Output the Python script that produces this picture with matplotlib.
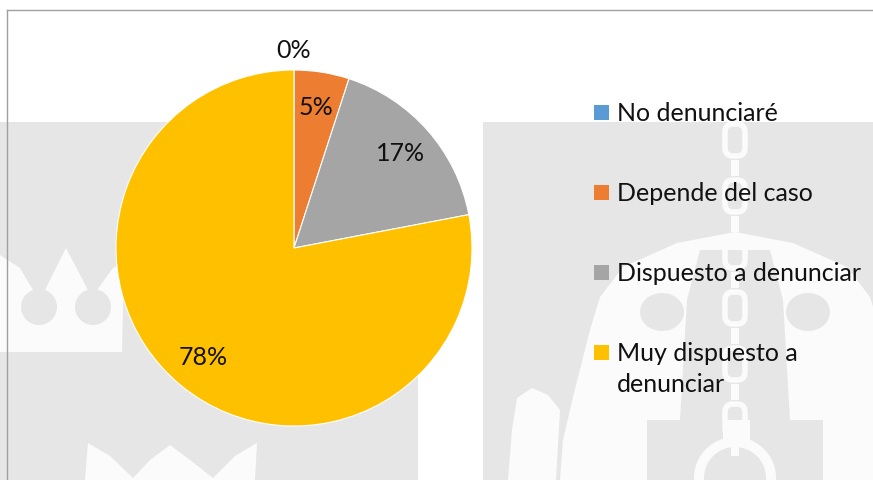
import matplotlib
matplotlib.use("Agg")
import matplotlib.pyplot as plt
from matplotlib.patches import Rectangle, Polygon, Circle, Ellipse, FancyBboxPatch
import numpy as np

plt.rcParams['font.family'] = ['Lato', 'DejaVu Sans']

categories = ["No denunciaré", "Depende del caso", "Dispuesto a denunciar", "Muy dispuesto a\ndenunciar"]
values = [0, 5, 17, 78]
labels = ["0%", "5%", "17%", "78%"]
colors = ["#5B9BD5", "#ED7D31", "#A5A5A5", "#FFC000"]

W, H = 873, 480
fig = plt.figure(figsize=(W / 100, H / 100), dpi=100)
fig.patch.set_facecolor("white")

# ---- background (watermark approximation) in pixel coordinates ----
bg = fig.add_axes([0, 0, 1, 1], zorder=0)
bg.set_xlim(0, W)
bg.set_ylim(H, 0)
bg.axis("off")
GRAY = "#e6e6e6"
WM = "#fbfbfb"
bg.add_patch(Rectangle((0, 122), 418, H - 122, facecolor=GRAY, edgecolor="none"))
bg.add_patch(Rectangle((483, 122), W - 483, H - 122, facecolor=GRAY, edgecolor="none"))
# left crown
bg.add_patch(Polygon([(0, 352), (0, 255), (20, 268), (33, 290), (45, 290), (66, 248),
                      (88, 290), (97, 290), (113, 268), (124, 262), (122, 352)],
                     closed=True, facecolor=WM, edgecolor="none"))
bg.add_patch(Circle((39, 307), 18, facecolor=GRAY, edgecolor="none"))
bg.add_patch(Circle((93, 307), 18, facecolor=GRAY, edgecolor="none"))
# bottom crown
bg.add_patch(Polygon([(85, 480), (88, 443), (110, 456), (133, 478), (150, 460), (170, 445),
                      (190, 460), (213, 478), (235, 456), (257, 443), (255, 480)],
                     closed=True, facecolor=WM, edgecolor="none"))
# right arch
bg.add_patch(Polygon([(560, 480), (563, 440), (573, 397), (590, 330), (600, 297), (623, 267),
                      (677, 243), (735, 232), (793, 243), (847, 267), (870, 297), (880, 330),
                      (897, 397), (907, 440), (910, 480)],
                     closed=True, facecolor=WM, edgecolor="none"))
bg.add_patch(Polygon([(700, 250), (770, 250), (783, 300), (790, 420), (680, 420), (687, 300)],
                     closed=True, facecolor=GRAY, edgecolor="none"))
bg.add_patch(Ellipse((662, 312), 44, 38, facecolor=GRAY, edgecolor="none"))
bg.add_patch(Ellipse((808, 312), 44, 38, facecolor=GRAY, edgecolor="none"))
bg.add_patch(Rectangle((647, 420), 76, 60, facecolor=GRAY, edgecolor="none"))
bg.add_patch(Rectangle((750, 420), 73, 60, facecolor=GRAY, edgecolor="none"))
bg.add_patch(Circle((735, 478), 41, facecolor=WM, edgecolor="none"))
bg.add_patch(Circle((735, 478), 31, facecolor=GRAY, edgecolor="none"))
# tail
bg.add_patch(Polygon([(508, 480), (512, 430), (517, 398), (532, 388), (548, 395), (560, 410),
                      (556, 480)], closed=True, facecolor=WM, edgecolor="none"))
# chain
for yy in range(124, 420, 56):
    bg.add_patch(FancyBboxPatch((725, yy), 20, 32, boxstyle="round,pad=0,rounding_size=8",
                                facecolor="none", edgecolor=WM, linewidth=4))
    bg.add_patch(Rectangle((731, yy + 36), 8, 16, facecolor=WM, edgecolor="none"))
# chart border
bg.add_line(plt.Line2D([7, 7], [480, 10], color="#a0a0a0", linewidth=1.0))
bg.add_line(plt.Line2D([7, 873], [10, 10], color="#a0a0a0", linewidth=1.0))

# ---- pie ----
cx, cy, r = 294, 248, 178
ax = fig.add_axes([(cx - r) / W, (H - cy - r) / H, 2 * r / W, 2 * r / H], zorder=2)
ax.set_facecolor("none")
wedges, _ = ax.pie(values, colors=colors, startangle=90, counterclock=False,
                   wedgeprops=dict(linewidth=0.8, edgecolor="white"))
ax.set_xlim(-1, 1)
ax.set_ylim(-1, 1)
ax.set_aspect("equal")

TXT = "#111111"
for w, lab, v in zip(wedges, labels, values):
    ang = np.deg2rad((w.theta1 + w.theta2) / 2)
    dist = 0.8 if v > 0 else 1.11
    ax.text(dist * np.cos(ang), dist * np.sin(ang), lab, ha="center", va="center",
            fontsize=18, color=TXT, clip_on=False)

# ---- legend ----
leg_ax = fig.add_axes([0, 0, 1, 1], zorder=3)
leg_ax.set_xlim(0, W)
leg_ax.set_ylim(H, 0)
leg_ax.axis("off")
baselines = [121, 201, 281, 361]
for cat, col, b in zip(categories, colors, baselines):
    leg_ax.add_patch(Rectangle((594, b - 16), 15, 15, facecolor=col, edgecolor="none"))
    for i, line in enumerate(cat.split("\n")):
        leg_ax.text(617, b + 31 * i, line, ha="left", va="baseline", fontsize=18, color=TXT)

fig.savefig("out.png", dpi=100, facecolor="white")
